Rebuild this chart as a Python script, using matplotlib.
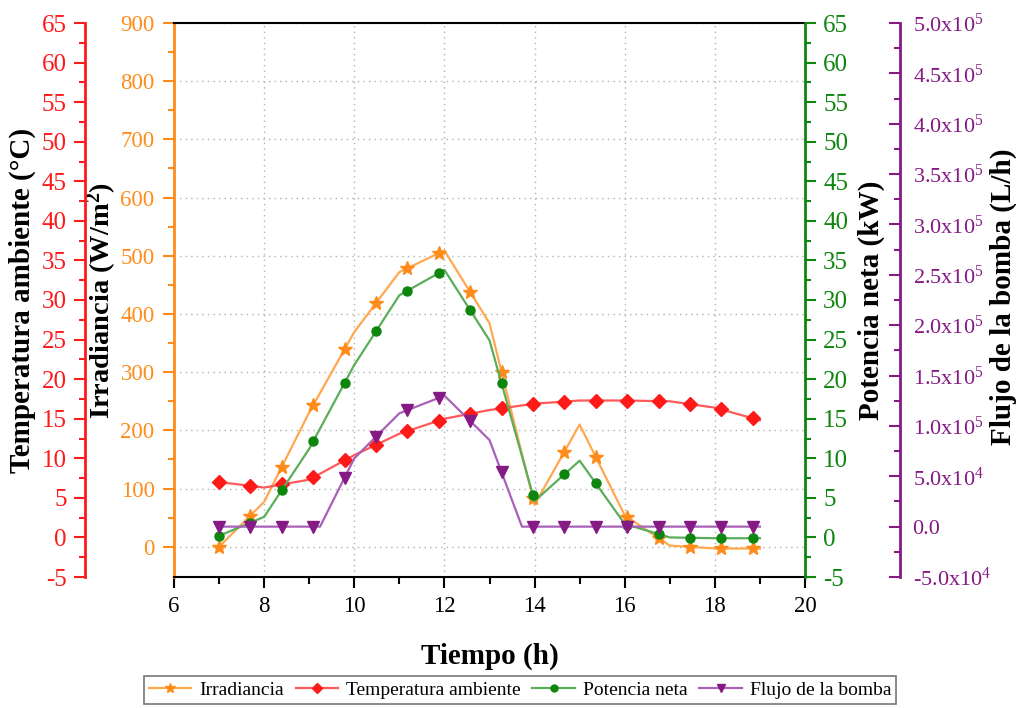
import numpy as np
import matplotlib
matplotlib.use("Agg")
import matplotlib.pyplot as plt
from matplotlib.lines import Line2D
from matplotlib.ticker import MultipleLocator, FixedLocator, FixedFormatter

# Hourly series
horas = [7, 8, 9, 10, 11, 12, 13, 14, 15, 16, 17, 18, 19]
irradiancia = [0, 77, 231, 369, 472, 509, 384, 72, 210, 54, 2, -3, -3]
temperatura = [7.0, 6.3, 7.3, 10.4, 13.1, 15.0, 16.1, 16.9, 17.3, 17.3, 17.2, 16.4, 14.8]
potencia = [0.2, 2.6, 11.2, 21.8, 30.6, 33.8, 24.9, 4.6, 9.7, 1.7, 0.0, -0.1, -0.1]

# Pump flow, with the switch-on / switch-off instants
horas_flujo = [7, 8, 9, 9.24, 10, 11, 12, 13, 13.72, 14, 15, 16, 17, 18, 19]
flujo = [0, 0, 0, 0, 6.78e4, 1.125e5, 1.30e5, 8.6e4, 0, 0, 0, 0, 0, 0, 0]

# Symbols are placed at evenly spaced instants along each curve
horas_simbolos = np.linspace(7, 18.84, 18)

flujo_ticks = [-5e4, 0, 5e4, 1e5, 1.5e5, 2e5, 2.5e5, 3e5, 3.5e5, 4e5, 4.5e5, 5e5]
flujo_labels = ['-5.0x10$^{4}$', '0.0', '5.0x10$^{4}$', '1.0x10$^{5}$', '1.5x10$^{5}$',
                '2.0x10$^{5}$', '2.5x10$^{5}$', '3.0x10$^{5}$', '3.5x10$^{5}$',
                '4.0x10$^{5}$', '4.5x10$^{5}$', '5.0x10$^{5}$']

plt.rcParams['font.family'] = ['Liberation Serif', 'DejaVu Serif']
plt.rcParams['mathtext.fontset'] = 'custom'
plt.rcParams['mathtext.rm'] = 'Liberation Serif'
plt.rcParams['mathtext.it'] = 'Liberation Serif:italic'
plt.rcParams['mathtext.bf'] = 'Liberation Serif:bold'
plt.rcParams['axes.unicode_minus'] = False

C_IRR = '#FF8C1A'
C_TEM = '#FF1A1A'
C_POT = '#0E860E'
C_FLU = '#851A85'
L_IRR = '#FFA850'
L_TEM = '#FF5A5A'
L_POT = '#5AAE5A'
L_FLU = '#A860B8'

TICK_FS = 18
LABEL_FS = 21

fig = plt.figure(figsize=(10.19, 7.08), dpi=100)
ax = fig.add_axes([174 / 1019, 1 - 577 / 708, 631 / 1019, 554 / 708])

ax_t = ax.twinx()
ax_p = ax.twinx()
ax_f = ax.twinx()


def style_ticks(a, color, side, direction='out', size=TICK_FS):
    a.tick_params(axis='y', which='major', direction=direction, length=8, width=1.5,
                  colors=color, labelsize=size, pad=5)
    a.tick_params(axis='y', which='minor', direction=direction, length=4, width=1.5,
                  colors=color)
    a.spines[side].set_color(color)
    a.spines[side].set_linewidth(2)


# Irradiance (host axis, left)
ax.set_xlim(6, 20)
ax.set_ylim(-52, 900)
ax.yaxis.set_major_locator(FixedLocator(list(range(0, 901, 100))))
ax.yaxis.set_minor_locator(FixedLocator(list(range(50, 901, 50))))
ax.xaxis.set_major_locator(MultipleLocator(2))
ax.xaxis.set_minor_locator(MultipleLocator(1))
ax.tick_params(axis='x', which='major', direction='out', length=8, width=1.5,
               labelsize=16.5, pad=6)
ax.tick_params(axis='x', which='minor', direction='out', length=5, width=1.5)
style_ticks(ax, C_IRR, 'left', size=16.5)
ax.tick_params(axis='y', which='major', pad=6)
ax.spines['right'].set_visible(False)
ax.spines['top'].set_linewidth(1.5)
ax.spines['bottom'].set_linewidth(1.5)
ax.grid(True, which='major', linestyle=(0, (1, 3)), color='#b0b0b0', linewidth=1)
ax.set_axisbelow(True)

# Ambient temperature (outer left)
ax_t.set_ylim(-5, 65)
ax_t.spines['left'].set_position(('axes', -0.141))
ax_t.spines['left'].set_visible(True)
ax_t.yaxis.set_ticks_position('left')
ax_t.yaxis.set_label_position('left')
for s in ('right', 'top', 'bottom'):
    ax_t.spines[s].set_visible(False)
ax_t.yaxis.set_major_locator(MultipleLocator(5))
ax_t.yaxis.set_minor_locator(MultipleLocator(2.5))
style_ticks(ax_t, C_TEM, 'left')

# Net power (right)
ax_p.set_ylim(-5, 65)
for s in ('left', 'top', 'bottom'):
    ax_p.spines[s].set_visible(False)
ax_p.yaxis.set_major_locator(MultipleLocator(5))
ax_p.yaxis.set_minor_locator(MultipleLocator(2.5))
style_ticks(ax_p, C_POT, 'right')

# Pump flow (outer right, ticks pointing toward the plot)
ax_f.set_ylim(-5e4, 5e5)
ax_f.spines['right'].set_position(('axes', 1.1506))
for s in ('left', 'top', 'bottom'):
    ax_f.spines[s].set_visible(False)
ax_f.yaxis.set_major_locator(FixedLocator(flujo_ticks))
ax_f.yaxis.set_major_formatter(FixedFormatter(flujo_labels))
ax_f.yaxis.set_minor_locator(MultipleLocator(2.5e4))
style_ticks(ax_f, C_FLU, 'right', direction='in', size=16)
ax_f.tick_params(axis='y', which='major', pad=9)

# Curves
ax.plot(horas, irradiancia, color=L_IRR, lw=1.6, zorder=3)
ax.plot(horas_simbolos, np.interp(horas_simbolos, horas, irradiancia),
        ls='none', marker='*', ms=10, color=C_IRR, zorder=4)
ax_t.plot(horas, temperatura, color=L_TEM, lw=1.6, zorder=3)
ax_t.plot(horas_simbolos, np.interp(horas_simbolos, horas, temperatura),
          ls='none', marker='D', ms=7, color=C_TEM, zorder=4)
ax_p.plot(horas, potencia, color=L_POT, lw=1.6, zorder=3)
ax_p.plot(horas_simbolos, np.interp(horas_simbolos, horas, potencia),
          ls='none', marker='o', ms=6.5, color=C_POT, zorder=4)
ax_f.plot(horas_flujo, flujo, color=L_FLU, lw=1.6, zorder=3)
ax_f.plot(horas_simbolos, np.interp(horas_simbolos, horas_flujo, flujo),
          ls='none', marker='v', ms=8, color=C_FLU, zorder=4)

# Axis titles
ax.set_xlabel('Tiempo (h)', fontsize=21, fontweight='bold', labelpad=18)
ax.set_ylabel(r'Irradiancia (W/m$\mathbf{^2}$)', fontsize=20.5, fontweight='bold')
ax.yaxis.set_label_coords(-0.087, 0.5)
ax_t.set_ylabel('Temperatura ambiente (°C)', fontsize=LABEL_FS, fontweight='bold')
ax_t.yaxis.set_label_coords(-0.219, 0.5)
ax_p.set_ylabel('Potencia neta (kW)', fontsize=LABEL_FS, fontweight='bold')
ax_p.yaxis.set_label_coords(1.084, 0.5)
ax_f.set_ylabel('Flujo de la bomba (L/h)', fontsize=LABEL_FS, fontweight='bold')
ax_f.yaxis.set_label_coords(1.293, 0.505)

# Legend
handles = [
    Line2D([], [], color=L_IRR, lw=1.6, marker='*', ms=7, mfc=C_IRR, mec=C_IRR),
    Line2D([], [], color=L_TEM, lw=1.6, marker='D', ms=5, mfc=C_TEM, mec=C_TEM),
    Line2D([], [], color=L_POT, lw=1.6, marker='o', ms=5, mfc=C_POT, mec=C_POT),
    Line2D([], [], color=L_FLU, lw=1.6, marker='v', ms=6, mfc=C_FLU, mec=C_FLU),
]
labels = ['Irradiancia', 'Temperatura ambiente', 'Potencia neta', 'Flujo de la bomba']
leg = fig.legend(handles, labels, loc='center', bbox_to_anchor=(520 / 1019, 1 - 690 / 708),
                 ncol=4, fontsize=14, frameon=True, fancybox=False, edgecolor='#555555',
                 handlelength=2.2, handletextpad=0.4, columnspacing=0.6,
                 borderpad=0.25)
leg.get_frame().set_linewidth(1.2)

fig.savefig('out.png', dpi=100)
